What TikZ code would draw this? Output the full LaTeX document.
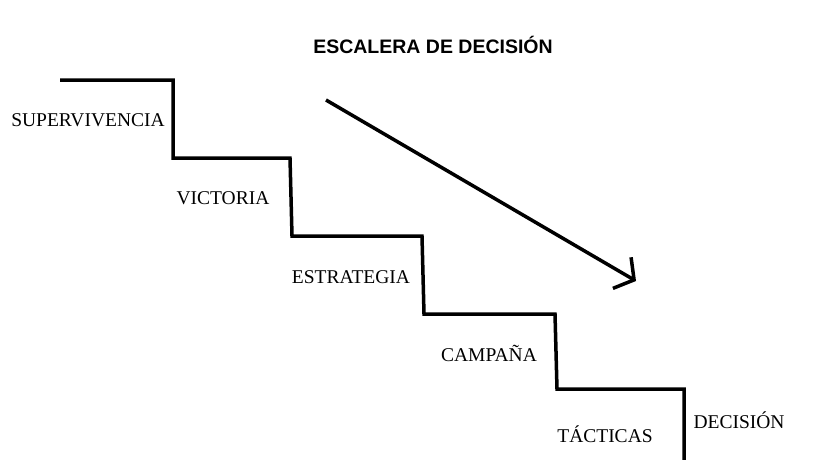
\documentclass[tikz,border=0pt]{standalone}
\usepackage{fontspec}
\setmainfont{Liberation Serif}
\newfontfamily\titlefont{Liberation Sans}
\usetikzlibrary{arrows.meta}
\begin{document}
\begin{tikzpicture}[x=1pt,y=-1pt]
\tikzstyle{stair} = [line width=3.5pt,line join=miter]
\tikzstyle{steplabel} = [font=\fontsize{19.5}{23}\selectfont]

\useasboundingbox (0,0) rectangle (819,460);

\node[font=\titlefont\bfseries\fontsize{19.5}{22}\selectfont] (title) at (433,45) {ESCALERA DE DECISIÓN};

\coordinate (s0) at (60,80);
\coordinate (s1) at (173,80);
\coordinate (s2) at (173,158);
\coordinate (s3) at (290,158);
\coordinate (s4) at (292,236);
\coordinate (s5) at (422,236);
\coordinate (s6) at (424,314);
\coordinate (s7) at (555,314);
\coordinate (s8) at (557,389);
\coordinate (s9) at (684,389);
\coordinate (s10) at (684,462);

\draw[stair] (s0) -- (s1) -- (s2) -- (s3) -- (s4) -- (s5) -- (s6) -- (s7) -- (s8) -- (s9) -- (s10);

\node[steplabel] (l1) at (88,120) {SUPERVIVENCIA};
\node[steplabel] (l2) at (223,198) {VICTORIA};
\node[steplabel] (l3) at (351,277) {ESTRATEGIA};
\node[steplabel] (l4) at (489,353) {CAMPAÑA};
\node[steplabel] (l5) at (605,434) {TÁCTICAS};
\node[steplabel] (l6) at (739,420) {DECISIÓN};

\coordinate (a1) at (326,100);
\coordinate (a2) at (636,281);
\draw[line width=3.5pt,-{Straight Barb[length=14pt,width=36pt,line width=3.5pt]}] (a1) -- (a2);
\end{tikzpicture}
\end{document}
